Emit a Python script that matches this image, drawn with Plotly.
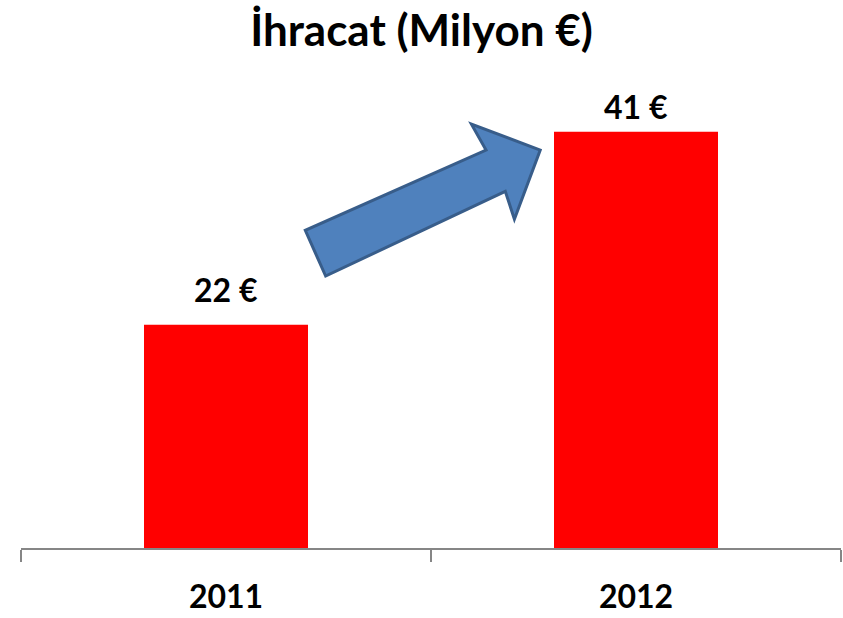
import plotly.graph_objects as go

years = ["2011", "2012"]
values = [22, 41]
labels = ["22 €", "41 €"]
title = "İhracat (Milyon €)"

# label offsets above bar tops (pixels) - styling only
label_shift = [14, 4]

# decorative block arrow outline in pixel space of the 843x618 page
arrow_px = [(325.6, 276), (305.3, 230.3), (486, 150), (471.4, 124.2),
            (540.2, 150), (514.4, 219.2), (505.3, 191.4)]

W, H = 843, 618
ml, mr, mt, mb = 21, 2, 80, 70
pw, ph = W - ml - mr, H - mt - mb

def to_paper(p):
    return ((p[0] - ml) / pw, (H - mb - p[1]) / ph)

path = "M " + " L ".join(f"{x:.4f},{y:.4f}" for x, y in map(to_paper, arrow_px)) + " Z"

FONT = "Lato"

fig = go.Figure(go.Bar(
    x=years, y=values, marker=dict(color="#FF0000", line=dict(width=0)),
))

for i, (v, lab) in enumerate(zip(values, labels)):
    fig.add_annotation(x=i, y=v, text=lab, showarrow=False, yanchor="bottom",
                       yshift=label_shift[i],
                       font=dict(family=FONT, size=32, color="black", weight="bold"))

fig.update_layout(
    width=W, height=H,
    margin=dict(l=ml, r=mr, t=mt, b=mb, autoexpand=False),
    paper_bgcolor="white", plot_bgcolor="white",
    bargap=0.6, showlegend=False,
    title=dict(text=title, x=0.5, xanchor="center", y=0.95, yanchor="middle",
               font=dict(family=FONT, size=44, color="black", weight="bold")),
    xaxis=dict(type="category", tickson="boundaries", ticks="outside", ticklen=12,
               tickcolor="#868686", tickwidth=1.5, showline=True, linecolor="#868686",
               linewidth=1.5, showgrid=False, tickangle=0, automargin=False,
               range=[-0.5, 1.5], ticklabelstandoff=20,
               tickfont=dict(family=FONT, size=32, color="black", weight="bold")),
    yaxis=dict(range=[0, 46.1], visible=False, showgrid=False),
    shapes=[dict(type="path", xref="paper", yref="paper", path=path,
                 fillcolor="#4F81BD", line=dict(color="#385D8A", width=3))],
)

fig.write_html("out.html")
